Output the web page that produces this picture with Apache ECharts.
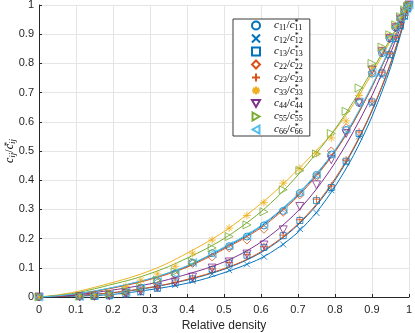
<!DOCTYPE html>
<html>
<head>
<meta charset="utf-8">
<script src="https://cdn.jsdelivr.net/npm/echarts@6.0.0/dist/echarts.min.js"></script>
<style>
  html, body { margin: 0; padding: 0; background: #fff; }
  #chart { width: 415px; height: 333px; }
</style>
</head>
<body>
<div id="chart"></div>
<script>
// measured points (relative density on x)
const density = [0, 0.11, 0.15, 0.19, 0.235, 0.275, 0.32, 0.368, 0.415, 0.468, 0.514, 0.562, 0.608, 0.66, 0.705, 0.75, 0.79, 0.83, 0.865, 0.9, 0.927, 0.948, 0.964, 0.977, 0.988, 0.996, 1];
const c11 = [0, 0.002, 0.004, 0.008, 0.018, 0.032, 0.055, 0.08, 0.118, 0.15, 0.174, 0.207, 0.245, 0.295, 0.356, 0.418, 0.488, 0.572, 0.665, 0.765, 0.835, 0.885, 0.922, 0.952, 0.976, 0.992, 1];
const c12 = [0, 0, 0.001, 0.003, 0.008, 0.015, 0.027, 0.041, 0.055, 0.079, 0.092, 0.112, 0.138, 0.18, 0.233, 0.288, 0.366, 0.46, 0.55, 0.66, 0.755, 0.825, 0.88, 0.925, 0.96, 0.985, 1];
const c13 = [0, 0.001, 0.002, 0.004, 0.01, 0.018, 0.03, 0.048, 0.062, 0.094, 0.116, 0.143, 0.17, 0.21, 0.262, 0.33, 0.375, 0.465, 0.56, 0.668, 0.767, 0.83, 0.885, 0.93, 0.962, 0.987, 1];
const c22 = [0, 0.002, 0.004, 0.007, 0.016, 0.029, 0.05, 0.075, 0.115, 0.137, 0.168, 0.195, 0.232, 0.29, 0.35, 0.412, 0.5, 0.58, 0.67, 0.77, 0.84, 0.89, 0.925, 0.954, 0.977, 0.993, 1];
const c23 = [0, 0.001, 0.002, 0.004, 0.01, 0.02, 0.032, 0.05, 0.064, 0.096, 0.118, 0.145, 0.172, 0.212, 0.265, 0.335, 0.38, 0.469, 0.565, 0.671, 0.77, 0.835, 0.89, 0.935, 0.965, 0.988, 1];
const c33 = [0, 0.004, 0.009, 0.015, 0.036, 0.058, 0.079, 0.105, 0.15, 0.195, 0.236, 0.279, 0.323, 0.39, 0.44, 0.492, 0.545, 0.603, 0.69, 0.785, 0.85, 0.895, 0.93, 0.956, 0.977, 0.992, 1];
const c44 = [0, 0.001, 0.003, 0.005, 0.012, 0.02, 0.034, 0.051, 0.068, 0.099, 0.12, 0.147, 0.178, 0.23, 0.31, 0.384, 0.47, 0.56, 0.665, 0.777, 0.84, 0.885, 0.922, 0.952, 0.976, 0.992, 1];
const c55 = [0, 0.003, 0.006, 0.011, 0.02, 0.034, 0.058, 0.087, 0.122, 0.168, 0.207, 0.247, 0.292, 0.367, 0.433, 0.49, 0.56, 0.636, 0.716, 0.8, 0.856, 0.898, 0.932, 0.96, 0.982, 0.995, 1];
const c66 = [0, 0.002, 0.005, 0.008, 0.017, 0.031, 0.053, 0.08, 0.118, 0.148, 0.176, 0.21, 0.25, 0.3, 0.36, 0.42, 0.49, 0.575, 0.668, 0.77, 0.84, 0.888, 0.925, 0.955, 0.978, 0.993, 1];

// fitted curves, every 0.05
const fitDensity = [0, 0.05, 0.1, 0.15, 0.2, 0.25, 0.3, 0.35, 0.4, 0.45, 0.5, 0.55, 0.6, 0.65, 0.7, 0.75, 0.8, 0.85, 0.9, 0.95, 1];
const fit11 = [0, 0.004, 0.01, 0.02, 0.032, 0.046, 0.062, 0.082, 0.105, 0.135, 0.168, 0.202, 0.242, 0.292, 0.35, 0.42, 0.5, 0.6, 0.72, 0.855, 1];
const fit12 = [0, 0.001, 0.003, 0.005, 0.009, 0.016, 0.025, 0.035, 0.047, 0.063, 0.083, 0.106, 0.133, 0.172, 0.222, 0.29, 0.378, 0.485, 0.618, 0.785, 1];
const fit13 = [0, 0.002, 0.005, 0.009, 0.015, 0.022, 0.032, 0.044, 0.058, 0.075, 0.095, 0.12, 0.152, 0.194, 0.247, 0.314, 0.4, 0.506, 0.637, 0.798, 1];
const fit22 = [0, 0.004, 0.01, 0.019, 0.031, 0.044, 0.06, 0.079, 0.102, 0.131, 0.164, 0.198, 0.237, 0.287, 0.345, 0.415, 0.497, 0.598, 0.72, 0.855, 1];
const fit23 = [0, 0.002, 0.005, 0.009, 0.015, 0.023, 0.033, 0.045, 0.06, 0.077, 0.097, 0.122, 0.155, 0.197, 0.25, 0.318, 0.405, 0.51, 0.64, 0.8, 1];
const fit33 = [0, 0.007, 0.018, 0.033, 0.05, 0.068, 0.09, 0.117, 0.15, 0.185, 0.224, 0.27, 0.32, 0.375, 0.437, 0.502, 0.572, 0.66, 0.765, 0.878, 1];
const fit44 = [0, 0.003, 0.007, 0.015, 0.024, 0.034, 0.045, 0.06, 0.078, 0.097, 0.12, 0.15, 0.188, 0.236, 0.295, 0.37, 0.46, 0.567, 0.69, 0.835, 1];
const fit55 = [0, 0.005, 0.014, 0.028, 0.044, 0.06, 0.08, 0.104, 0.133, 0.164, 0.2, 0.243, 0.292, 0.35, 0.418, 0.493, 0.575, 0.67, 0.775, 0.885, 1];
const fit66 = [0, 0.004, 0.011, 0.021, 0.033, 0.047, 0.063, 0.083, 0.107, 0.137, 0.171, 0.205, 0.245, 0.295, 0.353, 0.423, 0.503, 0.605, 0.725, 0.858, 1];

const tickLabels = ['0', '0.1', '0.2', '0.3', '0.4', '0.5', '0.6', '0.7', '0.8', '0.9', '1'];
const names = ['11', '12', '13', '22', '23', '33', '44', '55', '66'];

const points = { '11': c11, '12': c12, '13': c13, '22': c22, '23': c23, '33': c33, '44': c44, '55': c55, '66': c66 };
const fits = { '11': fit11, '12': fit12, '13': fit13, '22': fit22, '23': fit23, '33': fit33, '44': fit44, '55': fit55, '66': fit66 };

const colors = { '11': '#0072BD', '12': '#0072BD', '13': '#0072BD', '22': '#D95319', '23': '#D95319',
  '33': '#EDB120', '44': '#7E2F8E', '55': '#77AC30', '66': '#4DBEEE' };
const symbols = {
  '11': 'circle',
  '12': 'path://M0,0L10,10M10,0L0,10',
  '13': 'rect',
  '22': 'diamond',
  '23': 'path://M5,0L5,10M0,5L10,5',
  '33': 'path://M5,0L5,10M0,5L10,5M1.5,1.5L8.5,8.5M8.5,1.5L1.5,8.5',
  '44': 'path://M0,0L10,0L5,8.66Z',
  '55': 'path://M0,0L8.66,5L0,10Z',
  '66': 'path://M8.66,0L0,5L8.66,10Z'
};
const sizes = { '11': 7, '12': 6, '13': 6, '22': 8, '23': 8, '33': 8, '44': 8, '55': 8, '66': 8 };

var chartDom = document.getElementById('chart');
var myChart = echarts.init(chartDom, null, { renderer: 'canvas' });

const mathFont = "'Liberation Serif', 'DejaVu Serif', serif";
const rich = {
  i: { fontFamily: mathFont, fontStyle: 'italic', fontSize: 11, lineHeight: 13, color: '#000' },
  n: { fontFamily: mathFont, fontSize: 11, lineHeight: 13, color: '#000' },
  sub: { fontFamily: mathFont, fontSize: 8, lineHeight: 8, padding: [5, 0, 0, 0], color: '#000' },
  sup: { fontFamily: mathFont, fontSize: 8, lineHeight: 8, padding: [0, 0, 5, 0], width: 0, color: '#000' }
};
const yRich = {
  i: { fontFamily: mathFont, fontStyle: 'italic', fontSize: 12, lineHeight: 14, color: '#000' },
  n: { fontFamily: mathFont, fontSize: 12, lineHeight: 14, color: '#000' },
  sub: { fontFamily: mathFont, fontStyle: 'italic', fontSize: 9, lineHeight: 9, padding: [5, 0, 0, 0], color: '#000' },
  sup: { fontFamily: mathFont, fontSize: 9, lineHeight: 9, padding: [0, 0, 5, 0], width: 0, color: '#000' }
};

const series = [];
names.forEach(function (k) {
  series.push({
    name: 'fit' + k,
    type: 'line',
    data: fitDensity.map((d, i) => [d, fits[k][i]]),
    smooth: 0.3,
    symbol: 'none',
    silent: true,
    z: 2,
    lineStyle: { color: colors[k], width: 1 }
  });
});
names.forEach(function (k) {
  series.push({
    name: 'c' + k,
    type: 'scatter',
    data: density.map((d, i) => [d, points[k][i]]),
    symbol: symbols[k],
    symbolSize: sizes[k],
    z: 3,
    itemStyle: { color: 'rgba(255,255,255,0)', borderColor: colors[k], borderWidth: 0.8, opacity: 1 }
  });
});

const option = {
  animation: false,
  backgroundColor: '#fff',
  grid: { left: 39, right: 6, top: 5, bottom: 36, containLabel: false, outerBoundsMode: 'none' },
  legend: {
    data: names.map(k => 'c' + k),
    orient: 'vertical',
    left: 233,
    top: 19,
    padding: [0, 7, 0, 18],
    itemGap: 0,
    itemWidth: 8,
    itemHeight: 8,
    selectedMode: false,
    backgroundColor: '#fff',
    borderColor: '#3a3a3a',
    borderWidth: 1,
    borderRadius: 0,
    textStyle: { padding: [0, 0, 0, 9], rich: rich },
    formatter: function (name) {
      const k = name.slice(1);
      return '{i|c}{sub|' + k + '}{n|/}{i|c}{sup|*}{sub|' + k + '}';
    }
  },
  xAxis: {
    type: 'value',
    min: 0,
    max: 1,
    interval: 0.1,
    name: 'Relative density',
    nameLocation: 'middle',
    nameGap: 21,
    nameTextStyle: { fontFamily: "'Liberation Sans', Arial, sans-serif", fontSize: 12, color: '#262626' },
    axisLine: { lineStyle: { color: '#262626', width: 1 } },
    axisTick: { inside: true, length: 3, lineStyle: { color: '#262626' } },
    axisLabel: {
      margin: 7,
      fontFamily: "'Liberation Sans', Arial, sans-serif",
      fontSize: 11,
      color: '#262626',
      formatter: (v, idx) => tickLabels[idx]
    },
    splitLine: { show: true, lineStyle: { color: '#e5e5e5', width: 1 } }
  },
  yAxis: {
    type: 'value',
    min: 0,
    max: 1,
    interval: 0.1,
    name: '{i|c}{sub|ij}{n|/}{i|c}{sup|*}{sub|ij}',
    nameLocation: 'middle',
    nameRotate: 90,
    nameGap: 22,
    nameMoveOverlap: false,
    nameTextStyle: { rich: yRich, align: 'center', verticalAlign: 'bottom' },
    axisLine: { show: true, lineStyle: { color: '#262626', width: 1 } },
    axisTick: { show: true, inside: true, length: 3, lineStyle: { color: '#262626' } },
    axisLabel: {
      margin: 5,
      fontFamily: "'Liberation Sans', Arial, sans-serif",
      fontSize: 11,
      color: '#262626',
      formatter: (v, idx) => tickLabels[idx]
    },
    splitLine: { show: true, lineStyle: { color: '#e5e5e5', width: 1 } }
  },
  series: series
};

myChart.setOption(option);
</script>
</body>
</html>
